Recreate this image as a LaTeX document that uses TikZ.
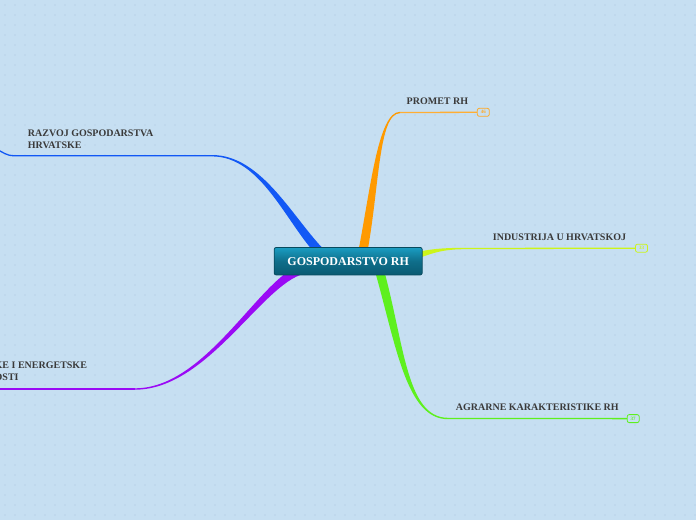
\documentclass[tikz,border=0pt]{standalone}
\usepackage{fontspec}
\setmainfont{Liberation Serif}
\usetikzlibrary{calc}

\definecolor{bgblue}{HTML}{C6DFF2}
\definecolor{dotblue}{HTML}{B8D2E9}
\definecolor{labelgray}{HTML}{3A3A3A}
\definecolor{promorange}{HTML}{FF9A00}
\definecolor{induyellow}{HTML}{CCF51A}
\definecolor{agrgreen}{HTML}{5EF01E}
\definecolor{razblue}{HTML}{1258F5}
\definecolor{enpurple}{HTML}{9A0AF5}
\definecolor{roottop}{HTML}{1A9DC2}
\definecolor{rootbottom}{HTML}{0A5A72}
\definecolor{rootborder}{HTML}{084A5E}

\tikzset{
  topic/.style={font=\bfseries\fontsize{10}{11.7}\selectfont, text=labelgray,
    inner sep=0pt, align=left},
  badge/.style={draw=#1, text=#1, rounded corners=2pt, line width=0.8pt,
    minimum width=12pt, minimum height=8pt, inner sep=0pt,
    font=\bfseries\fontsize{5}{5}\selectfont},
  subline/.style={draw=#1, line width=1.3pt},
}

% tapered branch: colour, start, control 1, control 2, end, half width
\newcommand{\ribbon}[6]{%
  \path ($(#2)!#6!90:(#3)$) coordinate (rSL)
        ($(#2)!#6!-90:(#3)$) coordinate (rSR)
        ($(#5)!0.7pt!-90:(#4)$) coordinate (rEL)
        ($(#5)!0.7pt!90:(#4)$) coordinate (rER);
  \path ($(#3)+(rSL)-(#2)$) coordinate (rAL)
        ($(#3)+(rSR)-(#2)$) coordinate (rAR)
        ($(#4)+(rEL)-(#5)$) coordinate (rBL)
        ($(#4)+(rER)-(#5)$) coordinate (rBR);
  \fill[#1] (rSL) .. controls (rAL) and (rBL) .. (rEL) -- (rER)
    .. controls (rBR) and (rAR) .. (rSR) -- cycle;}

\begin{document}
\begin{tikzpicture}[x=1pt,y=-1pt]
  \useasboundingbox (0,0) rectangle (696,520);
  \fill[bgblue] (0,0) rectangle (696,520);
  \foreach \i in {0,...,69}
    \foreach \j in {0,...,51}
      \fill[dotblue] (5+10*\i,5+10*\j) circle (0.8);

  % branch anchors
  \coordinate (promS) at (362,256);
  \coordinate (promA) at (375,190);
  \coordinate (promB) at (378,112.5);
  \coordinate (promE) at (400,112.5);
  \coordinate (induS) at (395,260);
  \coordinate (induA) at (425,255);
  \coordinate (induB) at (430,248.5);
  \coordinate (induE) at (465,248.5);
  \coordinate (agrS) at (377,262);
  \coordinate (agrA) at (400,340);
  \coordinate (agrB) at (405,418.5);
  \coordinate (agrE) at (448,418.5);
  \coordinate (razS) at (322,254);
  \coordinate (razA) at (290,222);
  \coordinate (razB) at (262,155.7);
  \coordinate (razE) at (212,155.7);
  \coordinate (razL) at (14,155.7);
  \coordinate (razO) at (-4,149);
  \coordinate (enS) at (308,268);
  \coordinate (enA) at (265,272);
  \coordinate (enB) at (210,389);
  \coordinate (enE) at (135,389);
  \coordinate (enO) at (-10,389);

  \ribbon{promorange}{promS}{promA}{promB}{promE}{4.5pt}
  \ribbon{induyellow}{induS}{induA}{induB}{induE}{4pt}
  \ribbon{agrgreen}{agrS}{agrA}{agrB}{agrE}{4.5pt}
  \ribbon{razblue}{razS}{razA}{razB}{razE}{4.5pt}
  \ribbon{enpurple}{enS}{enA}{enB}{enE}{5pt}

  % root
  \node[draw=rootborder, line width=0.8pt, rounded corners=2pt,
    top color=roottop, bottom color=rootbottom, middle color=rootbottom!70!roottop,
    minimum width=148pt, minimum height=27.5pt, inner sep=0pt,
    text=white, font=\bfseries\fontsize{12}{12}\selectfont]
    (root) at (348.2,261.2) {GOSPODARSTVO RH};

  % topics
  \node[topic, anchor=base west] (promLbl) at (406.5,104) {PROMET RH};
  \node[badge=promorange!85!white] (promBdg) at (483.3,112.3) {46};
  \draw[subline=promorange!80!white] (promE) -- (promBdg.west);

  \node[topic, anchor=base west] (induLbl) at (492.7,240) {INDUSTRIJA U HRVATSKOJ};
  \node[badge=induyellow] (induBdg) at (641.5,248.2) {33};
  \draw[subline=induyellow] (induE) -- (induBdg.west);

  \node[topic, anchor=base west] (agrLbl) at (455.7,410.7) {AGRARNE KARAKTERISTIKE RH};
  \node[badge=agrgreen] (agrBdg) at (633.2,418.6) {37};
  \draw[subline=agrgreen] (agrE) -- (agrBdg.west);

  \node[topic, anchor=base west] (razLbl) at (27.7,148.3) {RAZVOJ GOSPODARSTVA\\HRVATSKE};
  \draw[subline=razblue] (razE) -- (razL) .. controls (6,155.7) and (3,152) .. (razO);

  \node[topic, anchor=base west] (enLbl) at (-5.5,380) {KE I ENERGETSKE\\OSTI};
  \draw[subline=enpurple] (enE) -- (enO);
\end{tikzpicture}
\end{document}
